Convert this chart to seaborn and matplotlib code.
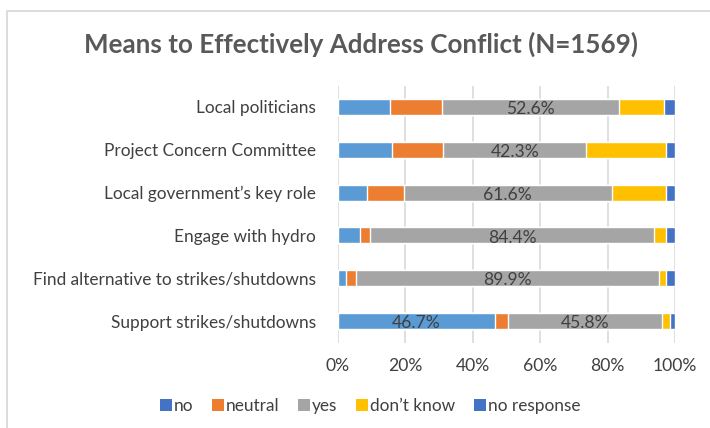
import matplotlib
matplotlib.use("Agg")
import matplotlib.pyplot as plt
from matplotlib.patches import Patch, Rectangle
import numpy as np
import pandas as pd
import seaborn as sns

# Survey answers, percent of respondents per means
categories = [
    "Local politicians",
    "Project Concern Committee",
    "Local government\u2019s key role",
    "Engage with hydro",
    "Find alternative to strikes/shutdowns",
    "Support strikes/shutdowns",
]
answer_no = [15.4, 16.0, 8.6, 6.5, 2.4, 46.7]
answer_neutral = [15.5, 15.3, 11.0, 3.0, 2.9, 3.7]
answer_yes = [52.6, 42.3, 61.6, 84.4, 89.9, 45.8]
answer_dont_know = [13.2, 23.7, 16.1, 3.4, 2.1, 2.3]
answer_no_response = [3.3, 2.7, 2.7, 2.7, 2.7, 1.6]

series_names = ["no", "neutral", "yes", "don\u2019t know", "no response"]
series_values = [answer_no, answer_neutral, answer_yes, answer_dont_know, answer_no_response]
series_colors = ["#5B9BD5", "#ED7D31", "#A5A5A5", "#FFC000", "#4472C4"]
legend_colors = ["#4472C4", "#ED7D31", "#A5A5A5", "#FFC000", "#4472C4"]
xticks = [0, 20, 40, 60, 80, 100]

sns.set_theme(style="white")
plt.rcParams["font.family"] = ["Lato", "DejaVu Sans"]

W, H = 710, 428
fig = plt.figure(figsize=(W / 100, H / 100), dpi=100)

# light frame around the chart area
fig.patches.append(Rectangle((7 / W, -0.1), 1.2, 1 - 11 / H + 0.1,
                             transform=fig.transFigure, fill=False,
                             edgecolor="#D9D9D9", linewidth=1.3))

ax = fig.add_axes([338 / W, 1 - 342.5 / H, (675 - 338) / W, (342.5 - 85.5) / H])

vals = np.array(series_values)
cum_end = np.cumsum(vals, axis=0)
cum_start = cum_end - vals

# stacked bars: draw cumulative totals from the outermost segment inward
for i in range(len(series_names) - 1, -1, -1):
    df = pd.DataFrame({"category": categories, "end": cum_end[i]})
    sns.barplot(data=df, x="end", y="category", color=series_colors[i],
                saturation=1, width=0.37, ax=ax, orient="h", zorder=2)

# value labels on the large segments
for i in range(len(series_names)):
    for j, cat in enumerate(categories):
        v = vals[i, j]
        if v > 40:
            ax.text(cum_start[i, j] + v / 2, j + 0.05, f"{v:.1f}%",
                    ha="center", va="center", fontsize=12.6, color="#404040", zorder=3)

ax.set_xlim(0, 100)
ax.set_ylim(5.5, -0.5)
ax.set_xticks(xticks)
ax.set_xticklabels([f"{t}%" for t in xticks])
ax.set_xlabel("")
ax.set_ylabel("")
ax.xaxis.grid(True, color="#D9D9D9", linewidth=1.2, zorder=0)
ax.set_axisbelow(True)
for s in ax.spines.values():
    s.set_visible(False)
ax.tick_params(axis="x", length=0, pad=11, labelsize=12.6, labelcolor="#404040")
ax.tick_params(axis="y", length=0, pad=16, labelsize=12.4, labelcolor="#404040")

fig.text(361.5 / W, 1 - 44 / H, "Means to Effectively Address Conflict (N=1569)",
         ha="center", va="center", fontsize=18.7, fontweight="bold", color="#595959")

handles = [Patch(facecolor=c, edgecolor="none", label=n)
           for n, c in zip(series_names, legend_colors)]
fig.legend(handles=handles, loc="center", bbox_to_anchor=(370 / W, 1 - 406 / H),
           ncol=5, frameon=False, fontsize=12.4, handlelength=0.7, handleheight=0.7,
           handletextpad=0.1, columnspacing=1.1, labelcolor="#404040")

fig.savefig("out.png", dpi=100)
